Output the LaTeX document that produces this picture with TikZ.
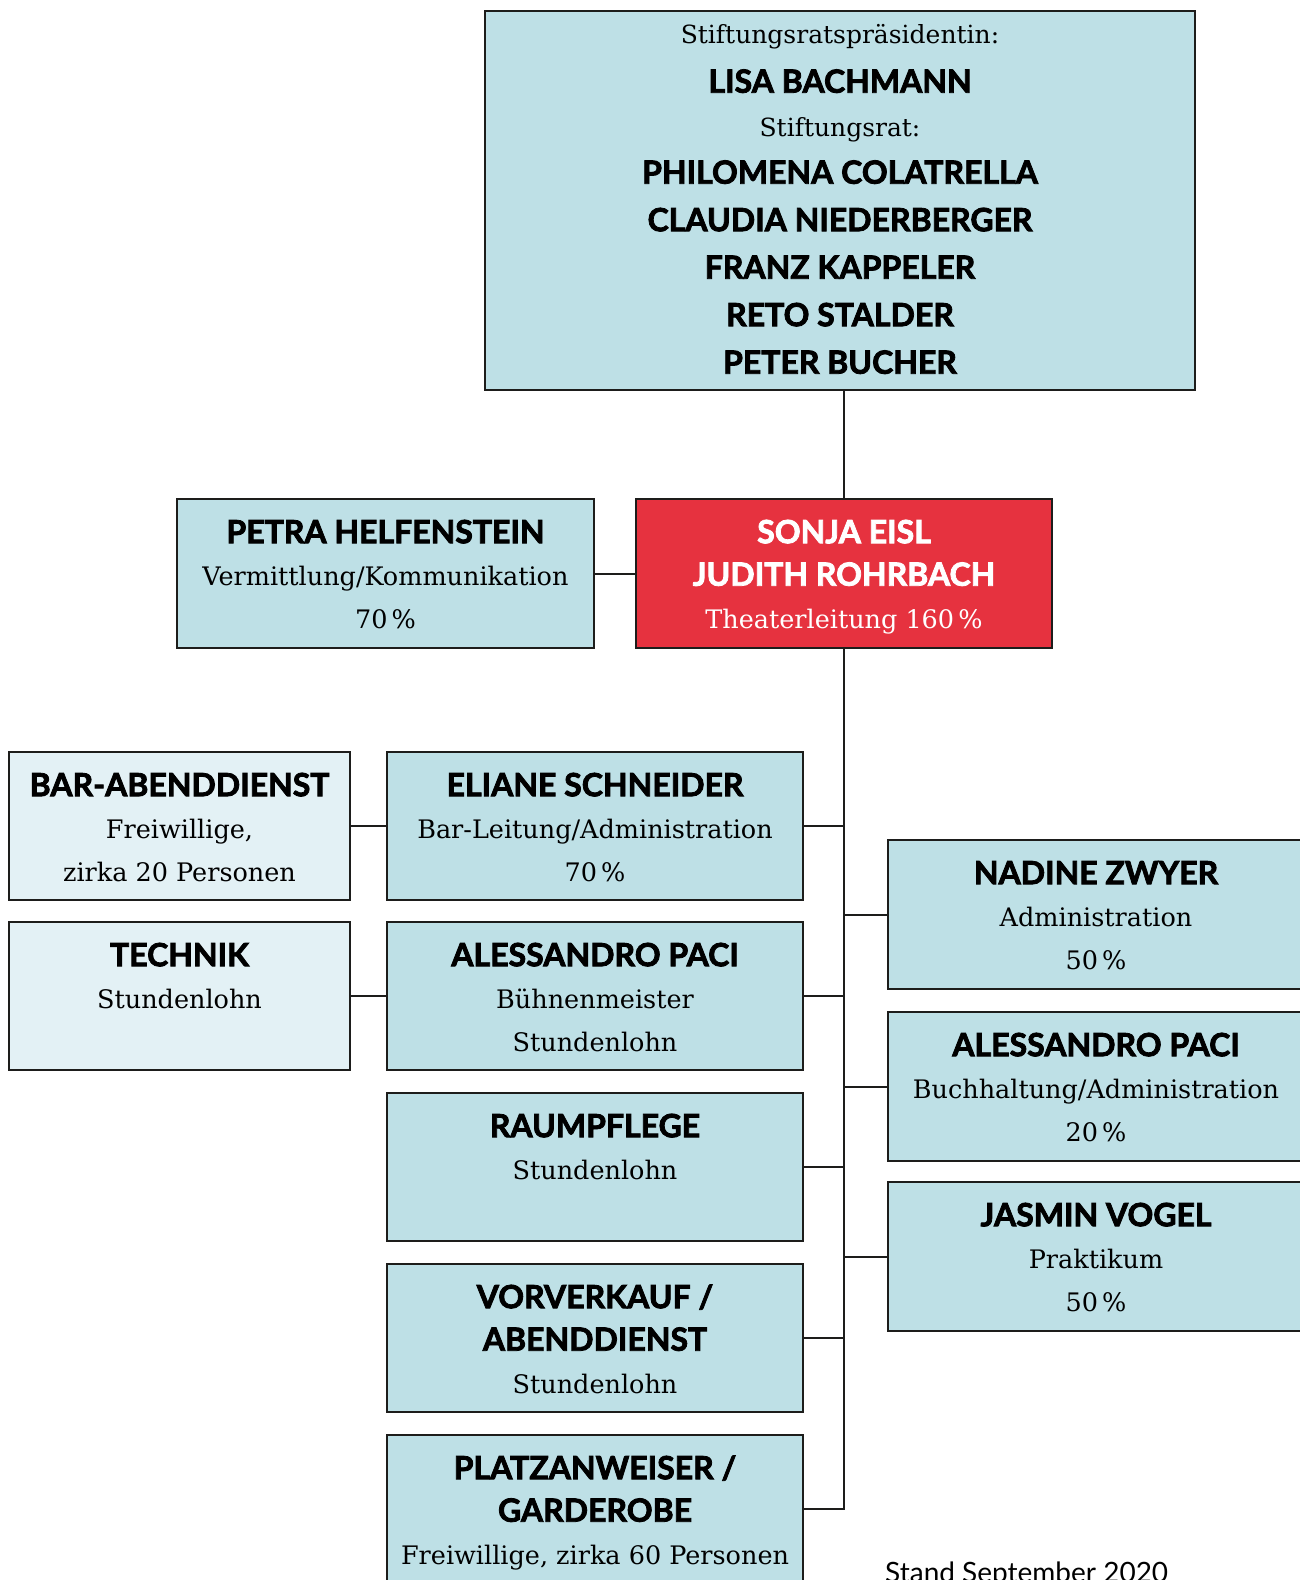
\documentclass[tikz,border=0pt]{standalone}
\usepackage{fontspec}
\usetikzlibrary{positioning,calc}
\newfontfamily\bodyfont{DejaVu Serif}
\newfontfamily\headfont{Lato}[BoldFeatures={FakeBold=2.5}]
\definecolor{boxblue}{HTML}{BEE0E6}
\definecolor{boxpale}{HTML}{E3F1F5}
\definecolor{leadred}{HTML}{E6323F}
\definecolor{linecol}{HTML}{1D1D1B}
\newcommand{\Head}[1]{{\headfont\bfseries\fontsize{32}{42.5}\selectfont #1}}
\newcommand{\FirstLn}{\rule{0pt}{30pt}}
\def\BoxW{416pt}
\def\BoxH{148pt}
\def\SideW{341pt}
\tikzset{
  orgbox/.style={
    rectangle,
    draw=linecol,
    line width=2pt,
    fill=boxblue,
    minimum width=\BoxW,
    minimum height=\BoxH,
    anchor=north west,
    inner sep=0pt
  },
  volbox/.style={orgbox, fill=boxpale, minimum width=\SideW},
  leadbox/.style={orgbox, fill=leadred},
  boxtext/.style={
    anchor=north,
    inner sep=0pt,
    align=center,
    yshift=-15pt,
    font=\bodyfont\fontsize{25.5}{42.5}\selectfont
  },
  link/.style={draw=linecol, line width=2pt}
}

\begin{document}
\begin{tikzpicture}[x=1pt,y=-1pt]
  \useasboundingbox (0,0) rectangle (1299,1580);

  % Stiftungsrat
  \node[orgbox, minimum width=710pt, minimum height=379pt] (board) at (484,10) {};
  \node[boxtext, yshift=12pt, font=\bodyfont\fontsize{25}{47.5}\selectfont] (board-txt) at (board.north)
    {\FirstLn Stiftungsratspräsidentin:\\[2pt]
     \Head{LISA BACHMANN}\\[-4pt]
     Stiftungsrat:\\
     \Head{PHILOMENA COLATRELLA}\\
     \Head{CLAUDIA NIEDERBERGER}\\
     \Head{FRANZ KAPPELER}\\
     \Head{RETO STALDER}\\
     \Head{PETER BUCHER}};

  % Theaterleitung
  \node[leadbox, minimum height=149pt] (lead) at (635,498) {};
  \node[boxtext, text=white] (lead-txt) at (lead.north)
    {\FirstLn\Head{SONJA EISL}\\ \Head{JUDITH ROHRBACH}\\ Theaterleitung 160\,\%};

  \node[orgbox, minimum width=417pt, minimum height=149pt] (petra) at (176,498) {};
  \node[boxtext] (petra-txt) at (petra.north)
    {\FirstLn\Head{PETRA HELFENSTEIN}\\ Vermittlung/Kommunikation\\ 70\,\%};

  % linke Spalte
  \node[orgbox] (eliane) at (386,751) {};
  \node[boxtext] (eliane-txt) at (eliane.north)
    {\FirstLn\Head{ELIANE SCHNEIDER}\\ Bar-Leitung/Administration\\ 70\,\%};

  \node[orgbox] (paci-b) at (386,921) {};
  \node[boxtext] (paci-b-txt) at (paci-b.north)
    {\FirstLn\Head{ALESSANDRO PACI}\\ Bühnenmeister\\ Stundenlohn};

  \node[orgbox] (raum) at (386,1092) {};
  \node[boxtext] (raum-txt) at (raum.north)
    {\FirstLn\Head{RAUMPFLEGE}\\ Stundenlohn};

  \node[orgbox] (vorv) at (386,1263) {};
  \node[boxtext] (vorv-txt) at (vorv.north)
    {\FirstLn\Head{VORVERKAUF /}\\ \Head{ABENDDIENST}\\ Stundenlohn};

  \node[orgbox] (platz) at (386,1434) {};
  \node[boxtext] (platz-txt) at (platz.north)
    {\FirstLn\Head{PLATZANWEISER /}\\ \Head{GARDEROBE}\\ Freiwillige, zirka 60 Personen};

  \node[volbox] (bar) at (8,751) {};
  \node[boxtext] (bar-txt) at (bar.north)
    {\FirstLn\Head{BAR-ABENDDIENST}\\ Freiwillige,\\ zirka 20 Personen};

  \node[volbox] (technik) at (8,921) {};
  \node[boxtext] (technik-txt) at (technik.north)
    {\FirstLn\Head{TECHNIK}\\ Stundenlohn};

  % rechte Spalte
  \node[orgbox, minimum width=450pt, minimum height=149pt] (nadine) at (887,839) {};
  \node[boxtext, xshift=-17pt] (nadine-txt) at (nadine.north)
    {\FirstLn\Head{NADINE ZWYER}\\ Administration\\ 50\,\%};

  \node[orgbox, minimum width=450pt, minimum height=149pt] (paci-a) at (887,1011) {};
  \node[boxtext, xshift=-17pt] (paci-a-txt) at (paci-a.north)
    {\FirstLn\Head{ALESSANDRO PACI}\\ Buchhaltung/Administration\\ 20\,\%};

  \node[orgbox, minimum width=450pt, minimum height=149pt] (jasmin) at (887,1181) {};
  \node[boxtext, xshift=-17pt] (jasmin-txt) at (jasmin.north)
    {\FirstLn\Head{JASMIN VOGEL}\\ Praktikum\\ 50\,\%};

  \node[anchor=base west, inner sep=0pt, font=\headfont\fontsize{28}{32}\selectfont] (stand) at (885,1582)
    {Stand September 2020};

  % Verbindungen
  \draw[link] (board.south -| lead.north) -- (lead.north);
  \draw[link] (petra.east) -- (lead.west);
  \draw[link] (lead.south) |- (platz.east);
  \foreach \n in {eliane,paci-b,raum,vorv}
    \draw[link] (\n.east) -- (\n.east -| lead.south);
  \foreach \n in {nadine,paci-a,jasmin}
    \draw[link] (\n.west) -- (\n.west -| lead.south);
  \draw[link] (bar.east) -- (eliane.west);
  \draw[link] (technik.east) -- (paci-b.west);
\end{tikzpicture}
\end{document}
